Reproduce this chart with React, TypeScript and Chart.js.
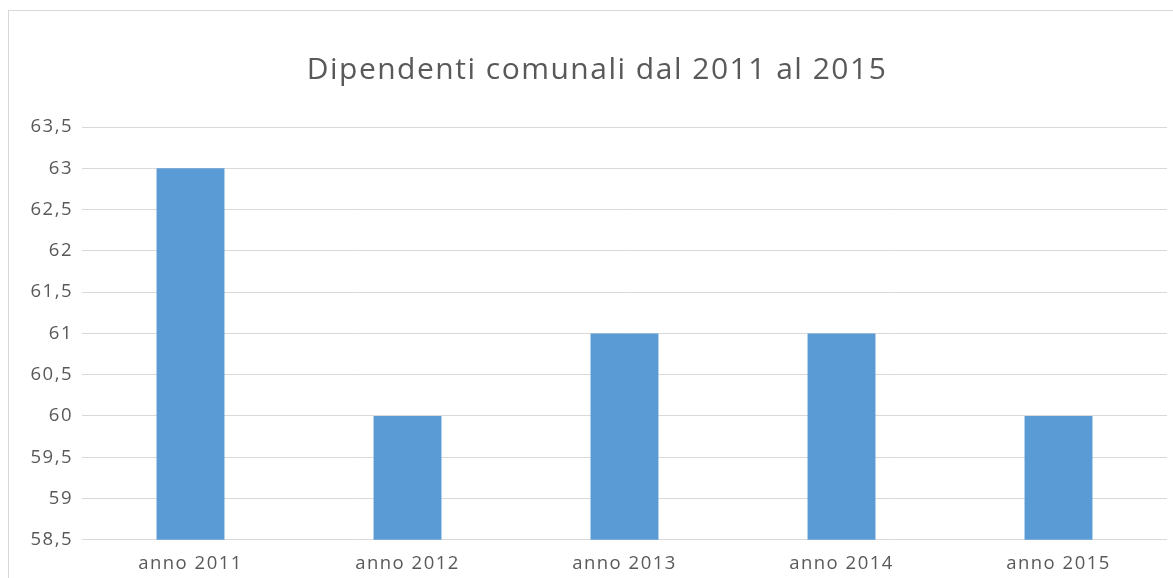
import React, { useEffect, useRef } from "react";
import { Chart, registerables } from "chart.js";

Chart.register(...registerables);

const categories = ["anno 2011", "anno 2012", "anno 2013", "anno 2014", "anno 2015"];
const values = [63, 60, 61, 61, 60];
const yMin = 58.5;
const yMax = 63.5;
const yStep = 0.5;
const titleText = "Dipendenti comunali dal 2011 al 2015";

const spacingPlugin = {
  id: "letterSpacing",
  beforeDraw: (chart: any) => {
    try {
      chart.ctx.letterSpacing = "1.5px";
    } catch (e) {}
  },
};

export default function App() {
  const ref = useRef<HTMLCanvasElement | null>(null);

  useEffect(() => {
    if (!ref.current) return;
    const chart = new Chart(ref.current, {
      type: "bar",
      data: {
        labels: categories,
        datasets: [
          {
            data: values,
            backgroundColor: "#5B9BD5",
            borderWidth: 0,
            barPercentage: 0.313,
            categoryPercentage: 1,
            yAxisID: "y",
          },
        ],
      },
      plugins: [spacingPlugin],
      options: {
        animation: false,
        responsive: false,
        maintainAspectRatio: false,
        layout: { padding: { left: 0, right: 0, top: 0, bottom: 3 } },
        plugins: {
          legend: { display: false },
          tooltip: { enabled: false },
          title: {
            display: true,
            text: titleText,
            color: "#595959",
            font: { family: "Open Sans", size: 30, weight: "normal" },
            padding: { top: 41, bottom: 39 },
          },
        },
        scales: {
          x: {
            grid: { display: false, drawTicks: false },
            border: { display: false },
            ticks: {
              color: "#595959",
              font: { family: "Open Sans", size: 18.5 },
              padding: 13,
              maxRotation: 0,
            },
          },
          y: {
            min: yMin,
            max: yMax,
            afterFit: (scale: any) => {
              scale.width = 73;
            },
            grid: { color: "#d9d9d9", lineWidth: 1, drawTicks: false },
            border: { display: false },
            ticks: {
              stepSize: yStep,
              color: "#595959",
              font: { family: "Open Sans", size: 18.5 },
              padding: 9,
              callback: (v: any) => String(Number(v)).replace(".", ","),
            },
          },
          yRight: {
            position: "right",
            min: yMin,
            max: yMax,
            grid: { display: false, drawTicks: false },
            border: { display: false },
            ticks: { display: false },
            afterFit: (scale: any) => {
              scale.width = 18;
            },
          },
        },
      },
    });
    return () => chart.destroy();
  }, []);

  return (
    <div
      style={{
        position: "fixed",
        left: 0,
        top: 0,
        width: 1173,
        height: 578,
        overflow: "hidden",
        background: "#fff",
      }}
    >
      <div
        style={{
          position: "absolute",
          left: 8,
          top: 10,
          width: 1200,
          height: 620,
          border: "1px solid #d9d9d9",
          background: "#fff",
        }}
      >
        <canvas ref={ref} width={1176} height={580} style={{ display: "block", width: 1176, height: 580 }} />
      </div>
    </div>
  );
}
